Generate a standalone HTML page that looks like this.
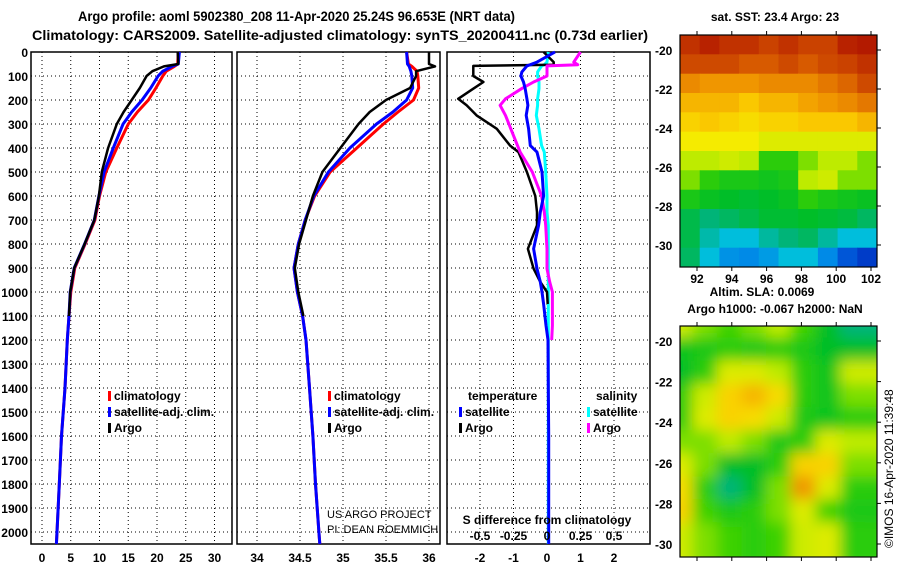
<!DOCTYPE html>
<html><head><meta charset="utf-8">
<style>
html,body{margin:0;padding:0;background:#fff;}
svg{display:block;font-family:"Liberation Sans",sans-serif;}
.t{font-weight:bold;font-size:12px;fill:#000;}
.ti{font-weight:bold;font-size:14px;fill:#000;}
</style></head>
<body>
<svg id="c" width="900" height="580" viewBox="0 0 900 580" xmlns="http://www.w3.org/2000/svg">
<text class="ti" x="78" y="21" textLength="437" lengthAdjust="spacingAndGlyphs">Argo profile: aoml 5902380_208 11-Apr-2020 25.24S 96.653E (NRT data)</text>
<text class="ti" x="32" y="40" textLength="616" lengthAdjust="spacingAndGlyphs">Climatology: CARS2009. Satellite-adjusted climatology: synTS_20200411.nc (0.73d earlier)</text>
<text class="t" x="775" y="21" text-anchor="middle">sat. SST: 23.4 Argo: 23</text>
<text class="t" x="762" y="296" text-anchor="middle">Altim. SLA: 0.0069</text>
<text class="t" x="775" y="313" text-anchor="middle">Argo h1000: -0.067 h2000: NaN</text>
<text x="893" y="548" font-size="12" transform="rotate(-90 893 548)">©IMOS 16-Apr-2020 11:39:48</text>
<g id="g"></g>
</svg>
<script>
// ---- data ----
const depths = [0,50,60,80,100,150,200,250,300,400,500,600,700,800,900,1000,1100,1200,1400,1600,1800,2000,2050];
const tempClim = [23.7,23.6,23.0,21.6,21.0,19.8,18.5,16.6,15.0,13.0,11.1,10.0,9.2,7.5,5.7,5.0,4.7,4.4,4.0,3.4,3.0,2.6,2.5];
const tempSat  = [23.9,23.7,22.6,21.0,20.2,18.9,17.4,15.6,14.1,12.4,10.8,9.9,9.1,7.4,5.6,4.9,4.7,4.4,4.0,3.4,3.0,2.6,2.5];
const tempArgo = [23.6,23.7,21.2,19.2,18.2,17.0,15.6,14.2,13.0,11.5,10.4,9.9,9.1,7.4,5.6,4.9,4.7];
const salClim = [35.74,35.76,35.8,35.86,35.87,35.88,35.82,35.64,35.47,35.16,34.85,34.67,34.56,34.48,34.43,34.47,34.53,34.57,34.61,34.65,34.68,34.72,34.73];
const salSat  = [35.74,35.75,35.77,35.79,35.80,35.81,35.74,35.58,35.39,35.08,34.83,34.66,34.56,34.48,34.43,34.47,34.53,34.57,34.61,34.65,34.68,34.72,34.73];
const salArgo = [36.0,36.0,36.07,35.85,35.85,35.78,35.5,35.31,35.18,34.97,34.76,34.65,34.57,34.49,34.44,34.48,34.54];
const diffDepths = [0,42,53,58,83,100,125,153,195,222,264,320,390,417,500,600,667,722,820,903,958,1000,1050,1139,1200,1400,1600,1800,2000,2050];
const dTsat  = [0.24,-0.3,-0.5,-0.6,-0.75,-0.78,-0.7,-0.65,-0.6,-0.57,-0.62,-0.55,-0.5,-0.3,-0.15,-0.1,-0.2,-0.25,-0.4,-0.3,-0.2,-0.15,-0.1,-0.03,0.03,0.04,0.05,0.05,0.05,0.05];
const dTargo = [-0.1,0.2,0.2,-2.2,-2.2,-2.2,-1.9,-2.2,-2.65,-2.4,-2.1,-1.5,-1.1,-0.85,-0.6,-0.35,-0.3,-0.3,-0.57,-0.4,-0.2,0.0,0.02];
const dSsat  = [0.01,0.0,-0.02,-0.04,-0.07,-0.07,-0.06,-0.06,-0.07,-0.07,-0.08,-0.06,-0.04,-0.02,-0.01,0,0,0.01,0.01,0.01,0.01,0.01,0.01,0.01,0.01,0.01,0.01,0.01,0.01,0.01];
const dSargo = [0.25,0.2,0.23,0.0,0.0,0.0,-0.1,-0.19,-0.31,-0.35,-0.31,-0.27,-0.22,-0.2,-0.11,-0.04,-0.02,-0.01,0.0,0.0,0.02,0.04,0.04,0.04,0.035];
const depthTicks = [0,100,200,300,400,500,600,700,800,900,1000,1100,1200,1300,1400,1500,1600,1700,1800,1900,2000];
const tTicks = [0,5,10,15,20,25,30];
const sTicks = [34,34.5,35,35.5,36];
const dTicks = [-2,-1,0,1,2];
const dsTickLabels = ["-0.5","-0.25","0","0.25","0.5"];
const lonTicks = [92,94,96,98,100,102];
const latTicks = [-20,-22,-24,-26,-28,-30];
const sstGrid = [
[.95,.97,.95,.95,.93,.95,.93,.93,.97,.98],
[.92,.92,.92,.90,.90,.92,.90,.92,.93,.95],
[.82,.80,.80,.80,.82,.82,.82,.85,.88,.92],
[.75,.75,.75,.72,.75,.75,.78,.80,.82,.85],
[.70,.72,.70,.68,.70,.70,.72,.72,.72,.75],
[.65,.65,.65,.65,.62,.62,.62,.62,.62,.62],
[.58,.58,.60,.58,.50,.50,.55,.58,.58,.55],
[.55,.50,.48,.48,.47,.48,.58,.60,.55,.55],
[.48,.46,.45,.44,.45,.46,.50,.48,.47,.46],
[.42,.38,.40,.42,.44,.44,.45,.44,.43,.40],
[.42,.34,.30,.30,.35,.38,.40,.35,.30,.30],
[.40,.30,.25,.24,.26,.30,.30,.24,.18,.15]];
const slaGrid = [
[.60,.55,.52,.55,.58,.52,.45,.38],
[.47,.48,.50,.48,.50,.48,.45,.45],
[.45,.50,.62,.62,.58,.50,.47,.60],
[.50,.60,.70,.75,.68,.50,.47,.55],
[.50,.62,.70,.68,.60,.48,.47,.50],
[.55,.55,.58,.55,.48,.50,.62,.58],
[.62,.55,.45,.45,.50,.70,.70,.55],
[.68,.50,.38,.45,.55,.80,.62,.50],
[.70,.52,.48,.50,.55,.62,.52,.48],
[.60,.55,.52,.50,.52,.60,.62,.50]];

// ---- scales ----
const NS="http://www.w3.org/2000/svg";
const G=document.getElementById('g');
const yD=d=>52+d*0.24;
const xT=t=>42+t*5.75;
const xS=s=>300+(s-34.5)*86;
const xDT=v=>547+v*33.5;
const xDS=v=>547+v*134;
function el(tag,attrs,parent){const e=document.createElementNS(NS,tag);for(const k in attrs)e.setAttribute(k,attrs[k]);(parent||G).appendChild(e);return e;}
function txt(x,y,s,anchor,cls){const e=el('text',{x:x,y:y,'text-anchor':anchor||'start','class':cls||'t'});e.textContent=s;return e;}

const panels=[{x0:31,x1:232,name:'temperature-panel',xs:xT,ticks:tTicks},
 {x0:237,x1:440,name:'salinity-panel',xs:xS,ticks:sTicks},
 {x0:447,x1:650,name:'difference-panel',xs:xDT,ticks:dTicks}];
const yBot=yD(2050);
panels.forEach(p=>{
  const g=el('g',{});
  
  
  p.ticks.forEach(t=>{const x=p.xs(t);
    const l=el('line',{x1:x,x2:x,y1:yD(0),y2:yBot,stroke:'#000','stroke-width':1,'stroke-dasharray':'1 3'},g);
    
    
    const lb=txt(x,562,String(t),'middle');g.appendChild(lb);
    
    
  });
  depthTicks.forEach(d=>{const y=yD(d);
    const l=el('line',{x1:p.x0,x2:p.x1,y1:y,y2:y,stroke:'#000','stroke-width':1,'stroke-dasharray':'1 3'},g);
    
    
  });
  const r=el('rect',{x:p.x0,y:yD(0),width:p.x1-p.x0,height:yBot-yD(0),fill:'none',stroke:'#000','stroke-width':1.5},g);
  
  
});
depthTicks.forEach(d=>{const e=txt(28,yD(d)+5,String(d),'end');
  
  });

function line(vals,ds,xs,color,name,w){
  const pts=vals.map((v,i)=>xs(v).toFixed(1)+','+yD(ds[i]).toFixed(1)).join(' ');
  const e=el('polyline',{points:pts,fill:'none',stroke:color,'stroke-width':w||3,'stroke-linejoin':'round'});
  
  
}
line(tempClim,depths,xT,'#ff0000','temp-climatology-line');
line(tempSat,depths,xT,'#0000ff','temp-satellite-line');
line(tempArgo,depths,xT,'#000','temp-argo-line',2.5);
line(salClim,depths,xS,'#ff0000','sal-climatology-line');
line(salSat,depths,xS,'#0000ff','sal-satellite-line');
line(salArgo,depths,xS,'#000','sal-argo-line',2.5);
line(dSsat,diffDepths,xDS,'#00ffff','sdiff-satellite-line');
line(dTargo,diffDepths,xDT,'#000','tdiff-argo-line',2.5);
line(dSargo,diffDepths,xDS,'#ff00ff','sdiff-argo-line');
line(dTsat,diffDepths,xDT,'#0000ff','tdiff-satellite-line');

// legends
function leg(x,y,color,label){
  const m=el('rect',{x:x,y:y-9,width:3,height:10,fill:color});
  
  
  const t=txt(x+6,y,label);
  
  
}
[[108,'#f00','climatology'],[108,'#00f','satellite-adj. clim.'],[108,'#000','Argo']].forEach((a,i)=>leg(a[0],400+i*16,a[1],a[2]));
[[328,'#f00','climatology'],[328,'#00f','satellite-adj. clim.'],[328,'#000','Argo']].forEach((a,i)=>leg(a[0],400+i*16,a[1],a[2]));
leg(459,416,'#00f','satellite');leg(459,432,'#000','Argo');
leg(587,416,'#0ff','satellite');leg(587,432,'#f0f','Argo');
let e=txt(468,400,'temperature');
e=txt(596,400,'salinity');
e=txt(547,524,'S difference from climatology','middle');
dsTickLabels.forEach((s,i)=>{const t=txt(xDT(dTicks[i]),540,s,'middle');
  
  });
e=el('text',{x:327,y:518,'font-size':11});e.textContent='US ARGO PROJECT';
e=el('text',{x:327,y:533,'font-size':11});e.textContent='PI: DEAN ROEMMICH';

// colormaps
function lerp(stops,v){v=Math.max(0,Math.min(1,v));for(let i=1;i<stops.length;i++){if(v<=stops[i][0]){const a=stops[i-1],b=stops[i],f=(v-a[0])/(b[0]-a[0]);return 'rgb('+[1,2,3].map(k=>Math.round(a[k]+(b[k]-a[k])*f)).join(',')+')';}}const l=stops[stops.length-1];return 'rgb('+l[1]+','+l[2]+','+l[3]+')';}
const jet=[[0,0,20,150],[.15,0,60,200],[.22,0,120,235],[.3,0,190,220],[.38,0,180,120],[.45,0,190,40],[.52,60,210,0],[.58,190,235,0],[.65,245,235,0],[.72,250,200,0],[.8,240,150,0],[.9,215,90,0],[1,170,10,0]];

function map(grid,x0,y0,w,h,name,blur){
  const g=el('g',{});
  
  
  const cp=el('clipPath',{id:name+'-clip'},g);el('rect',{x:x0,y:y0,width:w,height:h},cp);
  const inner=el('g',{'clip-path':'url(#'+name+'-clip)'},g);
  const tgt=blur?el('g',{filter:'url(#bl)'},inner):inner;
  const rows=grid.length,cols=grid[0].length,cw=w/cols,ch=h/rows;
  grid.forEach((row,r)=>row.forEach((v,c)=>{
    const cell=el('rect',{x:(x0+c*cw-(blur?cw*0.5:0)).toFixed(1),y:(y0+r*ch-(blur?ch*0.5:0)).toFixed(1),width:(cw+(blur?cw:0)+0.6).toFixed(1),height:(ch+(blur?ch:0)+0.6).toFixed(1),fill:lerp(jet,v)},tgt);
    
    
  }));
  el('rect',{x:x0,y:y0,width:w,height:h,fill:'none',stroke:'#000','stroke-width':1.2},g);
}
const defs=el('defs',{});const f=el('filter',{id:'bl',x:'-10%',y:'-10%',width:'120%',height:'120%'},defs);el('feGaussianBlur',{stdDeviation:7},f);
map(sstGrid,680,35,197,232,'sst-map',false);
map(slaGrid,680,326,197,231,'sla-map',true);
// map axes
const xLon=l=>697+(l-92)*17.4;
lonTicks.forEach(l=>{const t=txt(xLon(l),283,String(l),'middle');
  
  
  el('line',{x1:xLon(l),x2:xLon(l),y1:267,y2:271,stroke:'#000'});
  el('line',{x1:xLon(l),x2:xLon(l),y1:31,y2:35,stroke:'#000'});
  el('line',{x1:xLon(l),x2:xLon(l),y1:557,y2:561,stroke:'#000'});
  el('line',{x1:xLon(l),x2:xLon(l),y1:322,y2:326,stroke:'#000'});
});
latTicks.forEach(l=>{
  const y1=50+(-20-l)*19.5, y2=341+(-20-l)*20.3;
  let t=txt(655,y1+5,String(l),'start');
  t=txt(655,y2+5,String(l),'start');
  el('line',{x1:877,x2:881,y1:y1,y2:y1,stroke:'#000'});
  el('line',{x1:877,x2:881,y1:y2,y2:y2,stroke:'#000'});
});
</script>
</body></html>
